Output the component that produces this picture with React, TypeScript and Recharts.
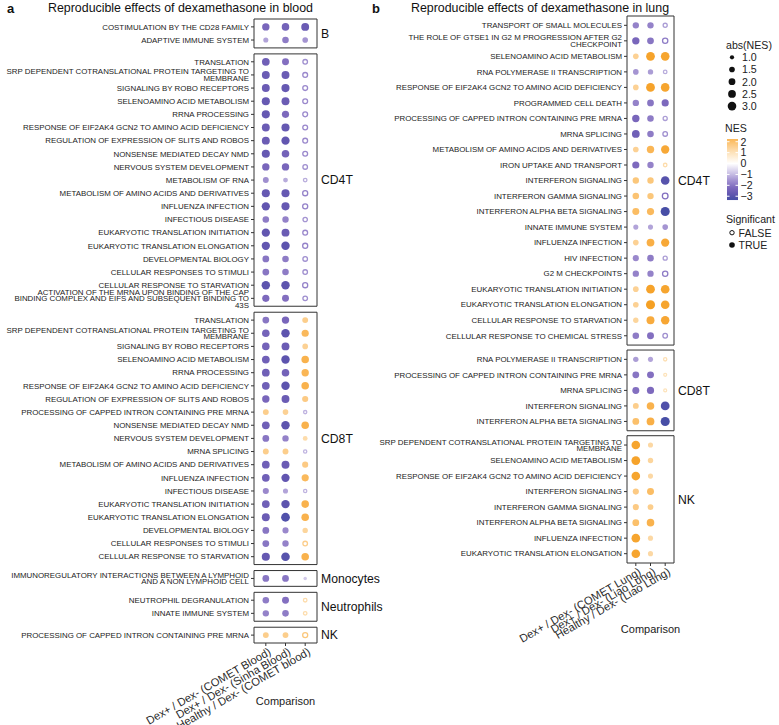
import React from 'react';
import { ScatterChart, Scatter, XAxis, YAxis, ReferenceArea } from 'recharts';

const FONT = "'Liberation Sans', Arial, Helvetica, sans-serif";

// x axis comparisons
const bloodComparisons = ['Dex+ / Dex- (COMET Blood)', 'Dex+ / Dex- (Sinha Blood)', 'Healthy / Dex- (COMET blood)'];
const lungComparisons = ['Dex+ / Dex- (COMET Lung)', 'Dex+ / Dex- (Liao Lung)', 'Healthy / Dex- (Liao Lung)'];

// ---- blood (panel a) ----
const bloodBPathways = ['COSTIMULATION BY THE CD28 FAMILY', 'ADAPTIVE IMMUNE SYSTEM'];
const bloodBNes = [[-2.3, -2.4, -2.6], [-1.3, -1.9, -1.5]];
const bloodBSig = ['111', '111'];

const bloodCD4Pathways = [
  'TRANSLATION',
  'SRP DEPENDENT COTRANSLATIONAL PROTEIN TARGETING TO MEMBRANE',
  'SIGNALING BY ROBO RECEPTORS',
  'SELENOAMINO ACID METABOLISM',
  'RRNA PROCESSING',
  'RESPONSE OF EIF2AK4 GCN2 TO AMINO ACID DEFICIENCY',
  'REGULATION OF EXPRESSION OF SLITS AND ROBOS',
  'NONSENSE MEDIATED DECAY NMD',
  'NERVOUS SYSTEM DEVELOPMENT',
  'METABOLISM OF RNA',
  'METABOLISM OF AMINO ACIDS AND DERIVATIVES',
  'INFLUENZA INFECTION',
  'INFECTIOUS DISEASE',
  'EUKARYOTIC TRANSLATION INITIATION',
  'EUKARYOTIC TRANSLATION ELONGATION',
  'DEVELOPMENTAL BIOLOGY',
  'CELLULAR RESPONSES TO STIMULI',
  'CELLULAR RESPONSE TO STARVATION',
  'ACTIVATION OF THE MRNA UPON BINDING OF THE CAP BINDING COMPLEX AND EIFS AND SUBSEQUENT BINDING TO 43S',
];
const bloodCD4Nes = [
  [-2.5, -2.1, -1.6], [-2.6, -2.6, -1.7], [-2.6, -2.7, -1.7], [-2.7, -2.6, -1.7], [-2.7, -2.2, -1.7],
  [-2.6, -2.7, -1.7], [-2.6, -2.8, -1.7], [-2.7, -2.4, -1.7], [-2.3, -2.3, -1.6], [-1.6, -1.2, -1.2],
  [-2.7, -2.7, -1.8], [-2.8, -2.7, -1.8], [-1.9, -1.8, -1.5], [-2.8, -2.6, -1.7], [-2.8, -2.9, -1.8],
  [-2.0, -1.9, -1.6], [-2.0, -1.9, -1.6], [-2.9, -2.9, -1.8], [-2.2, -2.1, -1.6],
];
const bloodCD4Sig = Array(19).fill('110');

const bloodCD8Pathways = [
  'TRANSLATION',
  'SRP DEPENDENT COTRANSLATIONAL PROTEIN TARGETING TO MEMBRANE',
  'SIGNALING BY ROBO RECEPTORS',
  'SELENOAMINO ACID METABOLISM',
  'RRNA PROCESSING',
  'RESPONSE OF EIF2AK4 GCN2 TO AMINO ACID DEFICIENCY',
  'REGULATION OF EXPRESSION OF SLITS AND ROBOS',
  'PROCESSING OF CAPPED INTRON CONTAINING PRE MRNA',
  'NONSENSE MEDIATED DECAY NMD',
  'NERVOUS SYSTEM DEVELOPMENT',
  'MRNA SPLICING',
  'METABOLISM OF AMINO ACIDS AND DERIVATIVES',
  'INFLUENZA INFECTION',
  'INFECTIOUS DISEASE',
  'EUKARYOTIC TRANSLATION INITIATION',
  'EUKARYOTIC TRANSLATION ELONGATION',
  'DEVELOPMENTAL BIOLOGY',
  'CELLULAR RESPONSES TO STIMULI',
  'CELLULAR RESPONSE TO STARVATION',
];
const bloodCD8Nes = [
  [-2.0, -2.3, 1.6], [-2.4, -2.9, 2.2], [-2.4, -2.6, 1.5], [-2.5, -2.9, 2.4], [-2.5, -2.4, 2.3],
  [-2.5, -2.9, 2.4], [-2.3, -2.6, 1.7], [1.6, 1.5, -1.1], [-2.5, -2.9, 2.4], [-2.0, -1.8, 1.2],
  [1.6, 1.6, -1.1], [-2.5, -2.6, 1.7], [-2.5, -2.8, 2.2], [-1.7, -1.3, -1.1], [-2.5, -2.9, 2.4],
  [-2.6, -3.1, 2.4], [-2.0, -1.7, 1.4], [-2.0, -1.8, 1.6], [-2.7, -3.0, 2.4],
];
const bloodCD8Sig = [
  '111', '111', '111', '111', '111', '111', '111', '110', '111', '111',
  '110', '111', '111', '110', '111', '111', '111', '110', '111',
];

const bloodMonoPathways = ['IMMUNOREGULATORY INTERACTIONS BETWEEN A LYMPHOID AND A NON LYMPHOID CELL'];
const bloodMonoNes = [[-2.0, -2.0, -0.8]];
const bloodMonoSig = ['111'];

const bloodNeutPathways = ['NEUTROPHIL DEGRANULATION', 'INNATE IMMUNE SYSTEM'];
const bloodNeutNes = [[-1.9, -2.1, 1.2], [-1.8, -1.9, 1.2]];
const bloodNeutSig = ['110', '110'];

const bloodNKPathways = ['PROCESSING OF CAPPED INTRON CONTAINING PRE MRNA'];
const bloodNKNes = [[1.6, 1.6, 1.8]];
const bloodNKSig = ['110'];

// ---- lung (panel b) ----
const lungCD4Pathways = [
  'TRANSPORT OF SMALL MOLECULES',
  'THE ROLE OF GTSE1 IN G2 M PROGRESSION AFTER G2 CHECKPOINT',
  'SELENOAMINO ACID METABOLISM',
  'RNA POLYMERASE II TRANSCRIPTION',
  'RESPONSE OF EIF2AK4 GCN2 TO AMINO ACID DEFICIENCY',
  'PROGRAMMED CELL DEATH',
  'PROCESSING OF CAPPED INTRON CONTAINING PRE MRNA',
  'MRNA SPLICING',
  'METABOLISM OF AMINO ACIDS AND DERIVATIVES',
  'IRON UPTAKE AND TRANSPORT',
  'INTERFERON SIGNALING',
  'INTERFERON GAMMA SIGNALING',
  'INTERFERON ALPHA BETA SIGNALING',
  'INNATE IMMUNE SYSTEM',
  'INFLUENZA INFECTION',
  'HIV INFECTION',
  'G2 M CHECKPOINTS',
  'EUKARYOTIC TRANSLATION INITIATION',
  'EUKARYOTIC TRANSLATION ELONGATION',
  'CELLULAR RESPONSE TO STARVATION',
  'CELLULAR RESPONSE TO CHEMICAL STRESS',
];
const lungCD4Nes = [
  [-1.8, -1.8, -1.4], [-2.3, -2.0, -1.9], [1.5, 3.1, 3.0], [-1.5, -1.4, -1.2], [1.5, 3.1, 3.0],
  [-1.8, -2.0, -2.2], [-2.3, -1.9, -1.4], [-2.5, -1.9, -1.6], [1.5, 2.3, 2.8], [-2.2, -1.8, 1.2],
  [1.8, 1.8, -3.0], [1.9, 1.8, -2.1], [2.1, 2.2, -3.3], [-1.3, -1.3, -1.5], [1.5, 2.5, 2.8],
  [-1.7, -1.9, -1.4], [-1.8, -1.8, -1.9], [1.5, 3.1, 3.0], [1.5, 3.3, 3.0], [1.4, 2.6, 2.9],
  [-1.9, -2.1, -1.6],
];
const lungCD4Sig = [
  '110', '110', '111', '110', '111', '111', '110', '110', '111', '110',
  '111', '110', '111', '111', '111', '110', '110', '111', '111', '111', '110',
];

const lungCD8Pathways = [
  'RNA POLYMERASE II TRANSCRIPTION',
  'PROCESSING OF CAPPED INTRON CONTAINING PRE MRNA',
  'MRNA SPLICING',
  'INTERFERON SIGNALING',
  'INTERFERON ALPHA BETA SIGNALING',
];
const lungCD8Nes = [[-1.4, -1.3, 1.1], [-2.0, -2.1, 1.0], [-2.1, -2.2, 1.0], [1.6, 2.4, -3.1], [2.0, 2.5, -3.3]];
const lungCD8Sig = ['110', '110', '110', '111', '111'];

const lungNKPathways = [
  'SRP DEPENDENT COTRANSLATIONAL PROTEIN TARGETING TO MEMBRANE',
  'SELENOAMINO ACID METABOLISM',
  'RESPONSE OF EIF2AK4 GCN2 TO AMINO ACID DEFICIENCY',
  'INTERFERON SIGNALING',
  'INTERFERON GAMMA SIGNALING',
  'INTERFERON ALPHA BETA SIGNALING',
  'INFLUENZA INFECTION',
  'EUKARYOTIC TRANSLATION ELONGATION',
];
const lungNKNes = [
  [3.0, 1.3, null], [3.1, 1.4, null], [3.0, 1.3, null], [1.7, 2.1, null],
  [1.7, 1.6, null], [2.0, 2.4, null], [3.0, 1.3, null], [3.0, 1.3, null],
];
const lungNKSig = Array(8).fill('11');

// legend values
const sizeBreaks = [1.0, 1.5, 2.0, 2.5, 3.0];
const nesBreaks = [2, 1, 0, -1, -2, -3];

type Facet = { name: string; pathways: string[]; nes: (number | null)[][]; sig: string[] };

const bloodFacets: Facet[] = [
  { name: 'B', pathways: bloodBPathways, nes: bloodBNes, sig: bloodBSig },
  { name: 'CD4T', pathways: bloodCD4Pathways, nes: bloodCD4Nes, sig: bloodCD4Sig },
  { name: 'CD8T', pathways: bloodCD8Pathways, nes: bloodCD8Nes, sig: bloodCD8Sig },
  { name: 'Monocytes', pathways: bloodMonoPathways, nes: bloodMonoNes, sig: bloodMonoSig },
  { name: 'Neutrophils', pathways: bloodNeutPathways, nes: bloodNeutNes, sig: bloodNeutSig },
  { name: 'NK', pathways: bloodNKPathways, nes: bloodNKNes, sig: bloodNKSig },
];
const lungFacets: Facet[] = [
  { name: 'CD4T', pathways: lungCD4Pathways, nes: lungCD4Nes, sig: lungCD4Sig },
  { name: 'CD8T', pathways: lungCD8Pathways, nes: lungCD8Nes, sig: lungCD8Sig },
  { name: 'NK', pathways: lungNKPathways, nes: lungNKNes, sig: lungNKSig },
];

// colour scale for NES (purple - white - orange)
const nesStops: [number, string][] = [
  [-3.4, '#414ca4'], [-2.8, '#6256b0'], [-2.2, '#7d69bd'], [-1.5, '#a595d2'], [-1.0, '#c5bbe3'],
  [0, '#ffffff'], [1.0, '#fde3bb'], [1.5, '#fcd194'], [2.0, '#fbc06b'], [2.6, '#f8ab3e'], [3.3, '#f5a024'],
];
const hex = (s: string) => [1, 3, 5].map((i) => parseInt(s.slice(i, i + 2), 16));
function nesColor(v: number) {
  if (v <= nesStops[0][0]) return nesStops[0][1];
  for (let i = 1; i < nesStops.length; i++) {
    const [v1, c1] = nesStops[i];
    if (v <= v1) {
      const [v0, c0] = nesStops[i - 1];
      const t = (v - v0) / (v1 - v0);
      const a = hex(c0), b = hex(c1);
      return `rgb(${a.map((x, k) => Math.round(x + (b[k] - x) * t)).join(',')})`;
    }
  }
  return nesStops[nesStops.length - 1][1];
}
const dotRadius = (a: number) => Math.sqrt(Math.max(7 * a - 2.5, 2));

function wrapLabel(s: string, width = 50) {
  const lines: string[] = [];
  let cur = '';
  s.split(' ').forEach((w) => {
    if (cur && (cur + ' ' + w).length > width) { lines.push(cur); cur = w; }
    else cur = cur ? cur + ' ' + w : w;
  });
  if (cur) lines.push(cur);
  return lines;
}

// stack the facets on one continuous y scale (rows = 1 unit)
function layoutFacets(facets: Facet[], gap: number) {
  let top = 0;
  const points: any[] = [];
  const ticks: number[] = [];
  const labels = new Map<string, string>();
  const boxes: { name: string; y1: number; y2: number }[] = [];
  facets.forEach((f) => {
    f.pathways.forEach((p, i) => {
      const y = top + 0.6 + i;
      ticks.push(y);
      labels.set(y.toFixed(3), p);
      f.nes[i].forEach((v, j) => {
        if (v == null) return;
        points.push({ x: j, y, nes: v, sig: f.sig[i][j] === '1' });
      });
    });
    const bottom = top + f.pathways.length + 0.2;
    boxes.push({ name: f.name, y1: top, y2: bottom });
    top = bottom + gap;
  });
  return { points, ticks, labels, boxes, total: top - gap };
}

const DotShape = (props: any) => {
  const { cx, cy, payload } = props;
  if (cx == null || cy == null) return null;
  const r = dotRadius(Math.abs(payload.nes));
  const c = nesColor(payload.nes);
  if (payload.sig) return <circle cx={cx} cy={cy} r={r} fill={c} />;
  return <circle cx={cx} cy={cy} r={r - 0.65} fill="#fff" stroke={c} strokeWidth={1.3} />;
};

type PanelProps = {
  facets: Facet[];
  comparisons: string[];
  gap: number;
  left: number;
  width: number;
  height: number;
  top: number;
  right: number;
  yWidth: number;
  xHeight: number;
  titleOffset: number;
};

const DotPanel = (p: PanelProps) => {
  const lay = layoutFacets(p.facets, p.gap);
  return (
    <div style={{ position: 'absolute', left: p.left, top: 0 }}>
      <ScatterChart width={p.width} height={p.height} margin={{ top: p.top, right: p.right, bottom: 0, left: 0 }}>
        <XAxis
          type="number"
          dataKey="x"
          domain={[-0.6, 2.6]}
          allowDataOverflow
          ticks={[0, 1, 2]}
          interval={0}
          axisLine={false}
          tickSize={3}
          tickMargin={1}
          tickLine={{ stroke: '#333' }}
          height={p.xHeight}
          tick={(t: any) => (
            <text
              x={t.x + 2}
              y={t.y}
              transform={`rotate(-30 ${t.x + 2} ${t.y})`}
              textAnchor="end"
              dy="0.72em"
              fontSize={11.2}
              fill="#2a2a2a"
              fontFamily={FONT}
            >
              {p.comparisons[t.payload.value]}
            </text>
          )}
          label={{ value: 'Comparison', position: 'insideBottom', offset: p.titleOffset, fontSize: 11, fill: '#222', fontFamily: FONT }}
        />
        <YAxis
          type="number"
          dataKey="y"
          domain={[0, lay.total]}
          allowDataOverflow
          reversed
          ticks={lay.ticks}
          interval={0}
          axisLine={false}
          tickSize={3}
          tickMargin={2}
          tickLine={{ stroke: '#333' }}
          width={p.yWidth}
          tick={(t: any) => {
            const lines = wrapLabel(lay.labels.get(Number(t.payload.value).toFixed(3)) ?? '');
            const lh = 6.4;
            const y0 = t.y - ((lines.length - 1) * lh) / 2;
            return (
              <text x={t.x} y={y0} textAnchor="end" fontSize={7.9} fill="#222" fontFamily={FONT}>
                {lines.map((l, i) => (
                  <tspan key={i} x={t.x} y={y0 + i * lh} dy="0.35em">{l}</tspan>
                ))}
              </text>
            );
          }}
        />
        {lay.boxes.map((b) => (
          <ReferenceArea
            key={b.name}
            x1={-0.6}
            x2={2.6}
            y1={b.y1}
            y2={b.y2}
            fill="none"
            stroke="#333"
            strokeWidth={1}
            ifOverflow="visible"
            label={{ value: b.name, position: 'right', offset: 4, fontSize: 12.2, fill: '#111', fontFamily: FONT }}
          />
        ))}
        <Scatter data={lay.points} isAnimationActive={false} shape={DotShape} />
      </ScatterChart>
    </div>
  );
};

const Overlay = () => {
  const barTop = 139;
  const unit = 10.9;
  const barHi = 2.25;
  const barLo = -3.35;
  const yOf = (v: number) => barTop + (barHi - v) * unit;
  const gradVals: number[] = [];
  for (let v = barHi; v >= barLo - 1e-9; v -= 0.25) gradVals.push(v);
  return (
    <svg width={779} height={725} style={{ position: 'absolute', left: 0, top: 0, pointerEvents: 'none' }} fontFamily={FONT}>
      <defs>
        <linearGradient id="nesGrad" x1="0" y1="0" x2="0" y2="1">
          {gradVals.map((v, i) => (
            <stop key={i} offset={(barHi - v) / (barHi - barLo)} stopColor={nesColor(v)} />
          ))}
        </linearGradient>
      </defs>
      <text x={7} y={12.5} fontSize={13} fontWeight="bold" fill="#111">a</text>
      <text x={180.5} y={12} fontSize={12.4} textAnchor="middle" fill="#111">Reproducible effects of dexamethasone in blood</text>
      <text x={372} y={12.5} fontSize={13} fontWeight="bold" fill="#111">b</text>
      <text x={540} y={12} fontSize={12.4} textAnchor="middle" fill="#111">Reproducible effects of dexamethasone in lung</text>

      <text x={726} y={49} fontSize={10.6} fill="#222">abs(NES)</text>
      {sizeBreaks.map((s, i) => (
        <g key={s}>
          <circle cx={732} cy={57.3 + i * 12.2} r={dotRadius(s)} fill="#111" />
          <text x={742} y={57.3 + i * 12.2} dy="0.36em" fontSize={10.6} fill="#222">{s.toFixed(1)}</text>
        </g>
      ))}

      <text x={725} y={132} fontSize={10.6} fill="#222">NES</text>
      <rect x={727} y={barTop} width={11} height={(barHi - barLo) * unit} fill="url(#nesGrad)" />
      {nesBreaks.map((v) => (
        <g key={v}>
          <line x1={727} x2={729.5} y1={yOf(v)} y2={yOf(v)} stroke="#fff" strokeWidth={1} />
          <line x1={735.5} x2={738} y1={yOf(v)} y2={yOf(v)} stroke="#fff" strokeWidth={1} />
          <text x={740.5} y={yOf(v)} dy="0.36em" fontSize={10.6} fill="#222">{v < 0 ? `\u2212${-v}` : v}</text>
        </g>
      ))}

      <text x={726} y={223} fontSize={10.6} fill="#222">Significant</text>
      <circle cx={732} cy={232.7} r={2.2} fill="#fff" stroke="#111" strokeWidth={1} />
      <text x={738.5} y={232.7} dy="0.36em" fontSize={10.6} fill="#222">FALSE</text>
      <circle cx={732} cy={245} r={2.8} fill="#111" />
      <text x={738.5} y={245} dy="0.36em" fontSize={10.6} fill="#222">TRUE</text>
    </svg>
  );
};

export default function App() {
  return (
    <div style={{ position: 'absolute', left: 0, top: 0, width: 779, height: 725, background: '#fff', fontFamily: FONT }}>
      <DotPanel
        facets={bloodFacets}
        comparisons={bloodComparisons}
        gap={0.456}
        left={0}
        width={390}
        height={725}
        top={19}
        right={73}
        yWidth={254}
        xHeight={82}
        titleOffset={20}
      />
      <DotPanel
        facets={lungFacets}
        comparisons={lungComparisons}
        gap={0.32}
        left={370}
        width={350}
        height={643}
        top={16}
        right={46}
        yWidth={257}
        xHeight={80}
        titleOffset={10}
      />
      <Overlay />
    </div>
  );
}
